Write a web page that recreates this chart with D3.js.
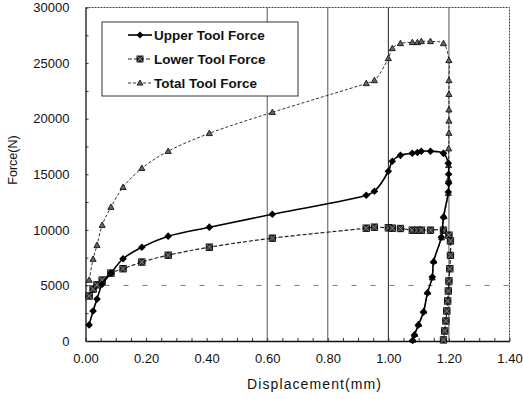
<!DOCTYPE html>
<html>
<head>
<meta charset="utf-8">
<script src="https://cdn.jsdelivr.net/npm/d3@7"></script>
<style>
  body { margin: 0; background: #fff; }
  svg text { font-family: "Liberation Sans", Arial, sans-serif; fill: #111; }
</style>
</head>
<body>
<svg id="chart" width="523" height="399"></svg>
<script>
// loading branch: displacement shared by all three series
const loadDisp   = [0.012, 0.025, 0.038, 0.055, 0.084, 0.124, 0.186, 0.273, 0.409, 0.617, 0.927, 0.954, 1.000, 1.013, 1.040, 1.079, 1.096, 1.109, 1.139, 1.182];
const upperLoad  = [1450, 2700, 3770, 5100, 6100, 7400, 8440, 9430, 10240, 11400, 13110, 13470, 15270, 16170, 16700, 16890, 16950, 17070, 17070, 16880];
const lowerLoad  = [4050, 4670, 5050, 5480, 6110, 6500, 7100, 7720, 8440, 9250, 10150, 10240, 10180, 10150, 10120, 9970, 9970, 9970, 9970, 9970];
const totalLoad  = [5480, 7365, 8620, 10420, 12040, 13830, 15540, 17070, 18680, 20570, 23170, 23440, 25420, 26320, 26770, 26860, 26860, 26950, 26950, 26770];

// unloading branches
const upperUnloadDisp = [1.198, 1.199, 1.199, 1.198, 1.182, 1.175, 1.149, 1.145, 1.129, 1.116, 1.099, 1.086, 1.080];
const upperUnload     = [16000, 15000, 14200, 13400, 11140, 9340, 7100, 5750, 4310, 2600, 1440, 540, 50];
const lowerUnloadDisp = [1.200, 1.205, 1.205, 1.203, 1.200, 1.198, 1.196, 1.193, 1.190, 1.186, 1.182];
const lowerUnload     = [9520, 9000, 7700, 6500, 5400, 4500, 3600, 2700, 1800, 900, 100];
const totalUnloadDisp = [1.200, 1.200, 1.200, 1.200, 1.200, 1.200, 1.199, 1.199, 1.199, 1.198, 1.184, 1.176, 1.150, 1.145, 1.130, 1.117, 1.100, 1.087, 1.081];
const totalUnload     = [25240, 23440, 22200, 20800, 19800, 18700, 17300, 15800, 14500, 13300, 11200, 9300, 7200, 5700, 4400, 2700, 1500, 600, 100];

const xTicks = [0, 0.2, 0.4, 0.6, 0.8, 1.0, 1.2, 1.4];
const yTicks = [0, 5000, 10000, 15000, 20000, 25000, 30000];
const gridX = [0.6, 0.8, 1.0, 1.2];
const seriesNames = ["Upper Tool Force", "Lower Tool Force", "Total Tool Force"];

function zip(xs, ys) { return xs.map((d, i) => [d, ys[i]]); }

const series = [
  { name: seriesNames[0], pts: zip(loadDisp, upperLoad).concat(zip(upperUnloadDisp, upperUnload)), marker: "diamond", stroke: "#000", width: 1.6, dash: null },
  { name: seriesNames[1], pts: zip(loadDisp, lowerLoad).concat(zip(lowerUnloadDisp, lowerUnload)), marker: "square", stroke: "#222", width: 1.2, dash: "4,2" },
  { name: seriesNames[2], pts: zip(loadDisp, totalLoad).concat(zip(totalUnloadDisp, totalUnload)), marker: "triangle", stroke: "#333", width: 1, dash: "3,2" }
];

const svg = d3.select("#chart");
const x = d3.scaleLinear().domain([0, 1.4]).range([85.5, 509.5]);
const y = d3.scaleLinear().domain([0, 30000]).range([341, 7.5]);

// grid
svg.append("g").selectAll("line").data(gridX).enter().append("line")
  .attr("x1", d => x(d)).attr("x2", d => x(d))
  .attr("y1", y(30000)).attr("y2", y(0))
  .attr("stroke", (d, i) => i == 2 ? "#222" : "#555").attr("stroke-width", 1);

svg.append("line")
  .attr("x1", x(0)).attr("x2", x(1.4))
  .attr("y1", y(5000)).attr("y2", y(5000))
  .attr("stroke", "#777").attr("stroke-dasharray", "5,14");

// frame: top and right look dotted in the scan
svg.append("path")
  .attr("d", "M" + x(0) + "," + y(30000) + "H" + x(1.4) + "V" + y(0))
  .attr("fill", "none").attr("stroke", "#444").attr("stroke-dasharray", "2,1");

// x axis
svg.append("g")
  .attr("transform", "translate(0," + y(0) + ")")
  .call(d3.axisBottom(x).tickValues(xTicks).tickFormat(d3.format(".2f")).tickSize(0).tickPadding(13))
  .call(g => g.select(".domain").attr("stroke", "#111").attr("stroke-width", 1.3))
  .selectAll("text").attr("font-size", 13).attr("fill", "#111");

svg.append("g")
  .attr("transform", "translate(0," + y(0) + ")")
  .call(d3.axisBottom(x).tickValues(d3.range(0, 1.401, 0.05)).tickFormat("").tickSize(-3))
  .call(g => g.select(".domain").remove())
  .selectAll("line").attr("stroke", "#333");

// y axis
svg.append("g")
  .attr("transform", "translate(" + x(0) + ",0)")
  .call(d3.axisLeft(y).tickValues(yTicks).tickFormat(d3.format("d")).tickSize(0).tickPadding(16))
  .call(g => g.select(".domain").attr("stroke", "#111").attr("stroke-width", 1.3))
  .selectAll("text").attr("font-size", 13).attr("fill", "#111");

svg.append("g")
  .attr("transform", "translate(" + x(0) + ",0)")
  .call(d3.axisLeft(y).tickValues(d3.range(0, 30001, 2500)).tickFormat("").tickSize(-3))
  .call(g => g.select(".domain").remove())
  .selectAll("line").attr("stroke", "#333");

// titles
svg.append("text")
  .attr("x", 314).attr("y", 389)
  .attr("text-anchor", "middle").attr("font-size", 14)
  .attr("textLength", 134).attr("lengthAdjust", "spacing")
  .text("Displacement(mm)");

svg.append("text")
  .attr("transform", "translate(17,160) rotate(-90)")
  .attr("text-anchor", "middle").attr("font-size", 12.5)
  .text("Force(N)");

// markers
function drawMarker(g, type, size) {
  if (type == "diamond") {
    g.append("path").attr("d", "M0,-" + size + "L" + size + ",0L0," + size + "L-" + size + ",0Z").attr("fill", "#000");
  } else if (type == "square") {
    g.append("rect").attr("x", -size).attr("y", -size).attr("width", 2 * size).attr("height", 2 * size)
      .attr("fill", "#333").attr("stroke", "#000").attr("stroke-width", 0.9);
    g.append("path").attr("d", "M-" + size + ",-" + size + "L" + size + "," + size + "M" + size + ",-" + size + "L-" + size + "," + size)
      .attr("stroke", "#999").attr("stroke-width", 0.7);
  } else {
    g.append("path").attr("d", "M0,-" + size + "L" + (size * 0.95) + "," + (size * 0.7) + "L-" + (size * 0.95) + "," + (size * 0.7) + "Z")
      .attr("fill", "#666").attr("stroke", "#111").attr("stroke-width", 0.9);
  }
}

var line = d3.line()
  .x(d => x(d[0])).y(d => y(d[1]))
  .curve(d3.curveCatmullRom.alpha(0.5));

series.slice().reverse().forEach(function(s) {
  svg.append("path")
    .datum(s.pts)
    .attr("d", line)
    .attr("fill", "none")
    .attr("stroke", s.stroke)
    .attr("stroke-width", s.width)
    .attr("stroke-dasharray", s.dash);

  svg.append("g").selectAll("g")
    .data(s.pts).enter().append("g")
    .attr("transform", d => "translate(" + x(d[0]) + "," + y(d[1]) + ")")
    .each(function() { drawMarker(d3.select(this), s.marker, s.marker == "diamond" ? 3.8 : 3.2); });
});

// legend
var legend = svg.append("g").attr("transform", "translate(102,22)");
legend.append("rect")
  .attr("width", 196).attr("height", 74)
  .attr("fill", "#fff").attr("stroke", "#333").attr("stroke-width", 1);

var items = legend.selectAll(".item")
  .data(series).enter().append("g")
  .attr("class", "item")
  .attr("transform", (d, i) => "translate(0," + (13 + i * 24) + ")");

items.append("line")
  .attr("x1", 26).attr("x2", 50)
  .attr("stroke", d => d.stroke).attr("stroke-width", d => d.width)
  .attr("stroke-dasharray", d => d.dash);

items.each(function(d) {
  var g = d3.select(this).append("g").attr("transform", "translate(38,0)");
  drawMarker(g, d.marker, d.marker == "diamond" ? 3.5 : 3);
});

items.append("text")
  .attr("x", 52).attr("dy", "0.35em")
  .attr("font-size", 13.5).attr("font-weight", "bold")
  .text(d => d.name);
</script>
</body>
</html>
